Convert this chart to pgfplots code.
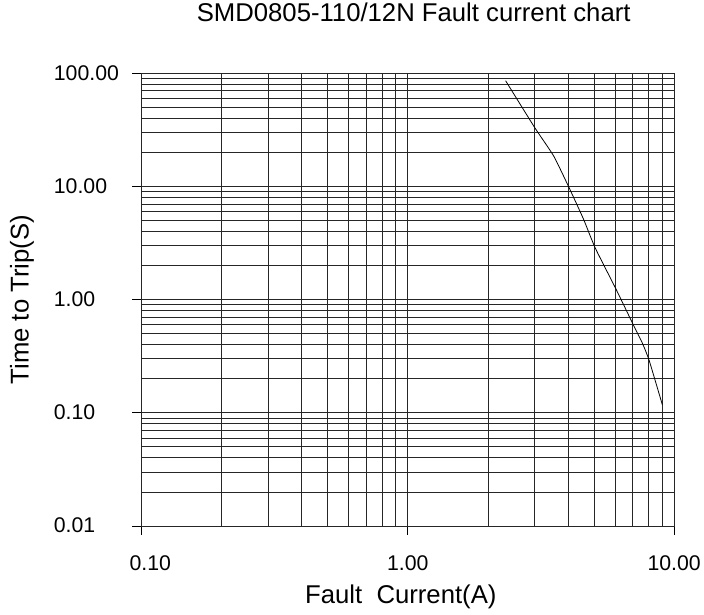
\documentclass[border=0pt]{standalone}
\usepackage{fontspec}
\setmainfont{Liberation Sans}
\usepackage{pgfplots}
\pgfplotsset{compat=1.18}

\begin{document}
\begin{tikzpicture}
  \begin{axis}[
      scale only axis,
      width=539bp, height=458bp,
      xmode=log, ymode=log,
      xmin=0.1, xmax=10,
      ymin=0.01, ymax=100,
      xtick={0.1,1,10},
      xticklabels={\hspace{18bp}0.10,1.00,10.00\hspace{14bp}},
      ytick={0.01,0.1,1,10,100},
      yticklabels={0.01,0.10,1.00,10.00,100.00},
      tick pos=left,
      tick align=outside,
      major tick length=9bp,
      minor tick length=0pt,
      tick style={black, line width=0.8bp},
      grid=both,
      major grid style={black!85, line width=0.8bp},
      minor grid style={black!85, line width=0.8bp},
      axis line style={black!85, line width=0.8bp},
      tick label style={font=\fontsize{21.5bp}{25bp}\selectfont},
      title={SMD0805-110/12N Fault current chart},
      title style={font=\fontsize{26bp}{30bp}\selectfont,
        at={(0.5,1)}, anchor=base, xshift=6bp, yshift=46bp},
      xlabel={Fault\ \ Current(A)},
      xlabel style={font=\fontsize{26bp}{30bp}\selectfont,
        at={(0.5,0)}, anchor=base, xshift=-7bp, yshift=-78bp},
      ylabel={Time to Trip(S)},
      ylabel style={font=\fontsize{26bp}{30bp}\selectfont,
        at={(0,0.5)}, anchor=base, yshift=114bp},
      xticklabel style={anchor=base, yshift=-36bp},
      yticklabel style={anchor=base west, xshift=-83bp, yshift=-7bp},
    ]
    % curve
    \addplot[black, line width=0.8bp, smooth, tension=0.3] coordinates {
      (2.33,86) (3.0,33) (3.53,18.6) (4.03,9.8) (4.56,5.2) (5.06,2.85)
      (6.06,1.23) (7.05,0.59) (7.61,0.41) (8.06,0.29) (9.03,0.118)
    };
  \end{axis}
  \path ([xshift=-143bp,yshift=-90bp]current axis.south west)
    rectangle ([xshift=22bp,yshift=73bp]current axis.north east);
\end{tikzpicture}
\end{document}
